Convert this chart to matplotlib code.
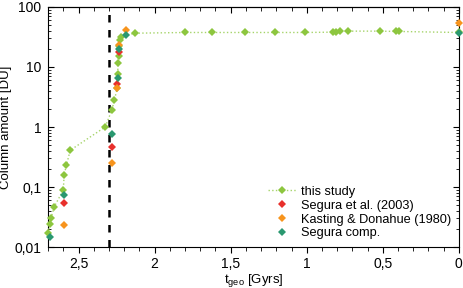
import matplotlib
matplotlib.use('Agg')
import matplotlib.pyplot as plt
from matplotlib.ticker import MultipleLocator, FuncFormatter, LogLocator

plt.rcParams['font.family'] = ['Liberation Sans', 'DejaVu Sans']

# this study
study_t = [2.70, 2.69, 2.68, 2.66, 2.60, 2.595, 2.58, 2.555, 2.325, 2.28, 2.265, 2.245,
           2.243, 2.24, 2.237, 2.232, 2.228, 2.22, 2.13, 1.80, 1.625, 1.405, 1.21, 1.01,
           0.825, 0.805, 0.78, 0.73, 0.52, 0.41, 0.395, 0.0]
study_v = [0.017, 0.024, 0.031, 0.047, 0.09, 0.16, 0.23, 0.41, 1.0, 1.95, 2.8, 4.5,
           7.6, 11.5, 15.5, 22, 28, 32, 36.5, 37.5, 37.5, 37.5, 37.5, 37.5,
           38, 38.5, 39, 39.5, 39.5, 39, 39, 37.5]

# Segura et al. (2003)
segura_t = [2.595, 2.28, 2.245, 2.235]
segura_v = [0.055, 0.46, 5.3, 17.5]

# Kasting & Donahue (1980)
kasting_t = [2.595, 2.28, 2.245, 2.237, 2.19, 0.0]
kasting_v = [0.023, 0.25, 4.5, 23, 41, 53]

# Segura comp.
comp_t = [2.69, 2.595, 2.28, 2.24, 2.235, 2.19, 0.0]
comp_v = [0.015, 0.074, 0.76, 6.5, 20, 34, 37]

fig = plt.figure(figsize=(4.63, 2.88), dpi=100)
ax = fig.add_axes([0.104, 0.142, 0.887, 0.834])

ax.plot(study_t, study_v, color='#a6d46a', linestyle=':', linewidth=1.0, marker='D',
        markerfacecolor='#8dc63f', markersize=4.2, markeredgewidth=0, label='this study',
        clip_on=False, zorder=3)
ax.plot(segura_t, segura_v, linestyle='none', marker='D', color='#e8302c', markersize=4.2,
        markeredgewidth=0, label='Segura et al. (2003)', clip_on=False, zorder=4)
ax.plot(kasting_t, kasting_v, linestyle='none', marker='D', color='#f7941d', markersize=4.2,
        markeredgewidth=0, label='Kasting & Donahue (1980)', clip_on=False, zorder=4)
ax.plot(comp_t, comp_v, linestyle='none', marker='D', color='#2a9870', markersize=4.2,
        markeredgewidth=0, label='Segura comp.', clip_on=False, zorder=5)

ax.axvline(2.3, color='black', linestyle=(0, (3, 3)), linewidth=1.8, zorder=2)

ax.set_yscale('log')
ax.set_xlim(2.7, 0)
ax.set_ylim(0.01, 100)

ax.xaxis.set_major_locator(MultipleLocator(0.5))
ax.xaxis.set_minor_locator(MultipleLocator(0.1))
ax.yaxis.set_major_locator(LogLocator(base=10, numticks=10))
ax.yaxis.set_minor_locator(LogLocator(base=10, subs=range(2, 10), numticks=10))

def comma_fmt(v, pos):
    return ('%g' % v).replace('.', ',')

ax.xaxis.set_major_formatter(FuncFormatter(comma_fmt))
ax.yaxis.set_major_formatter(FuncFormatter(comma_fmt))

ax.tick_params(axis='y', which='both', direction='in', left=True, right=True,
               labelsize=10, pad=5)
ax.tick_params(axis='y', which='major', length=4)
ax.tick_params(axis='y', which='minor', length=2)
ax.tick_params(axis='x', which='both', direction='out', top=False, labelsize=10, pad=3)
ax.tick_params(axis='x', which='major', length=4)
ax.tick_params(axis='x', which='minor', length=3)

top = ax.secondary_xaxis('top')
top.xaxis.set_major_locator(MultipleLocator(0.5))
top.xaxis.set_minor_locator(MultipleLocator(0.1))
top.tick_params(which='both', direction='in', labeltop=False)
top.tick_params(which='major', length=4)
top.tick_params(which='minor', length=3)

for s in ax.spines.values():
    s.set_linewidth(0.8)

ax.set_ylabel('Column amount [DU]', fontsize=9.5, labelpad=2)
ax.set_xlabel('t$_{\\mathregular{geo}}$ [Gyrs]', fontsize=9.5, labelpad=1)

ax.legend(loc='lower right', frameon=False, fontsize=9.2, handlelength=2.2,
          handletextpad=0.4, labelspacing=0.15, borderaxespad=0.2)

fig.savefig('out.png', dpi=100)
